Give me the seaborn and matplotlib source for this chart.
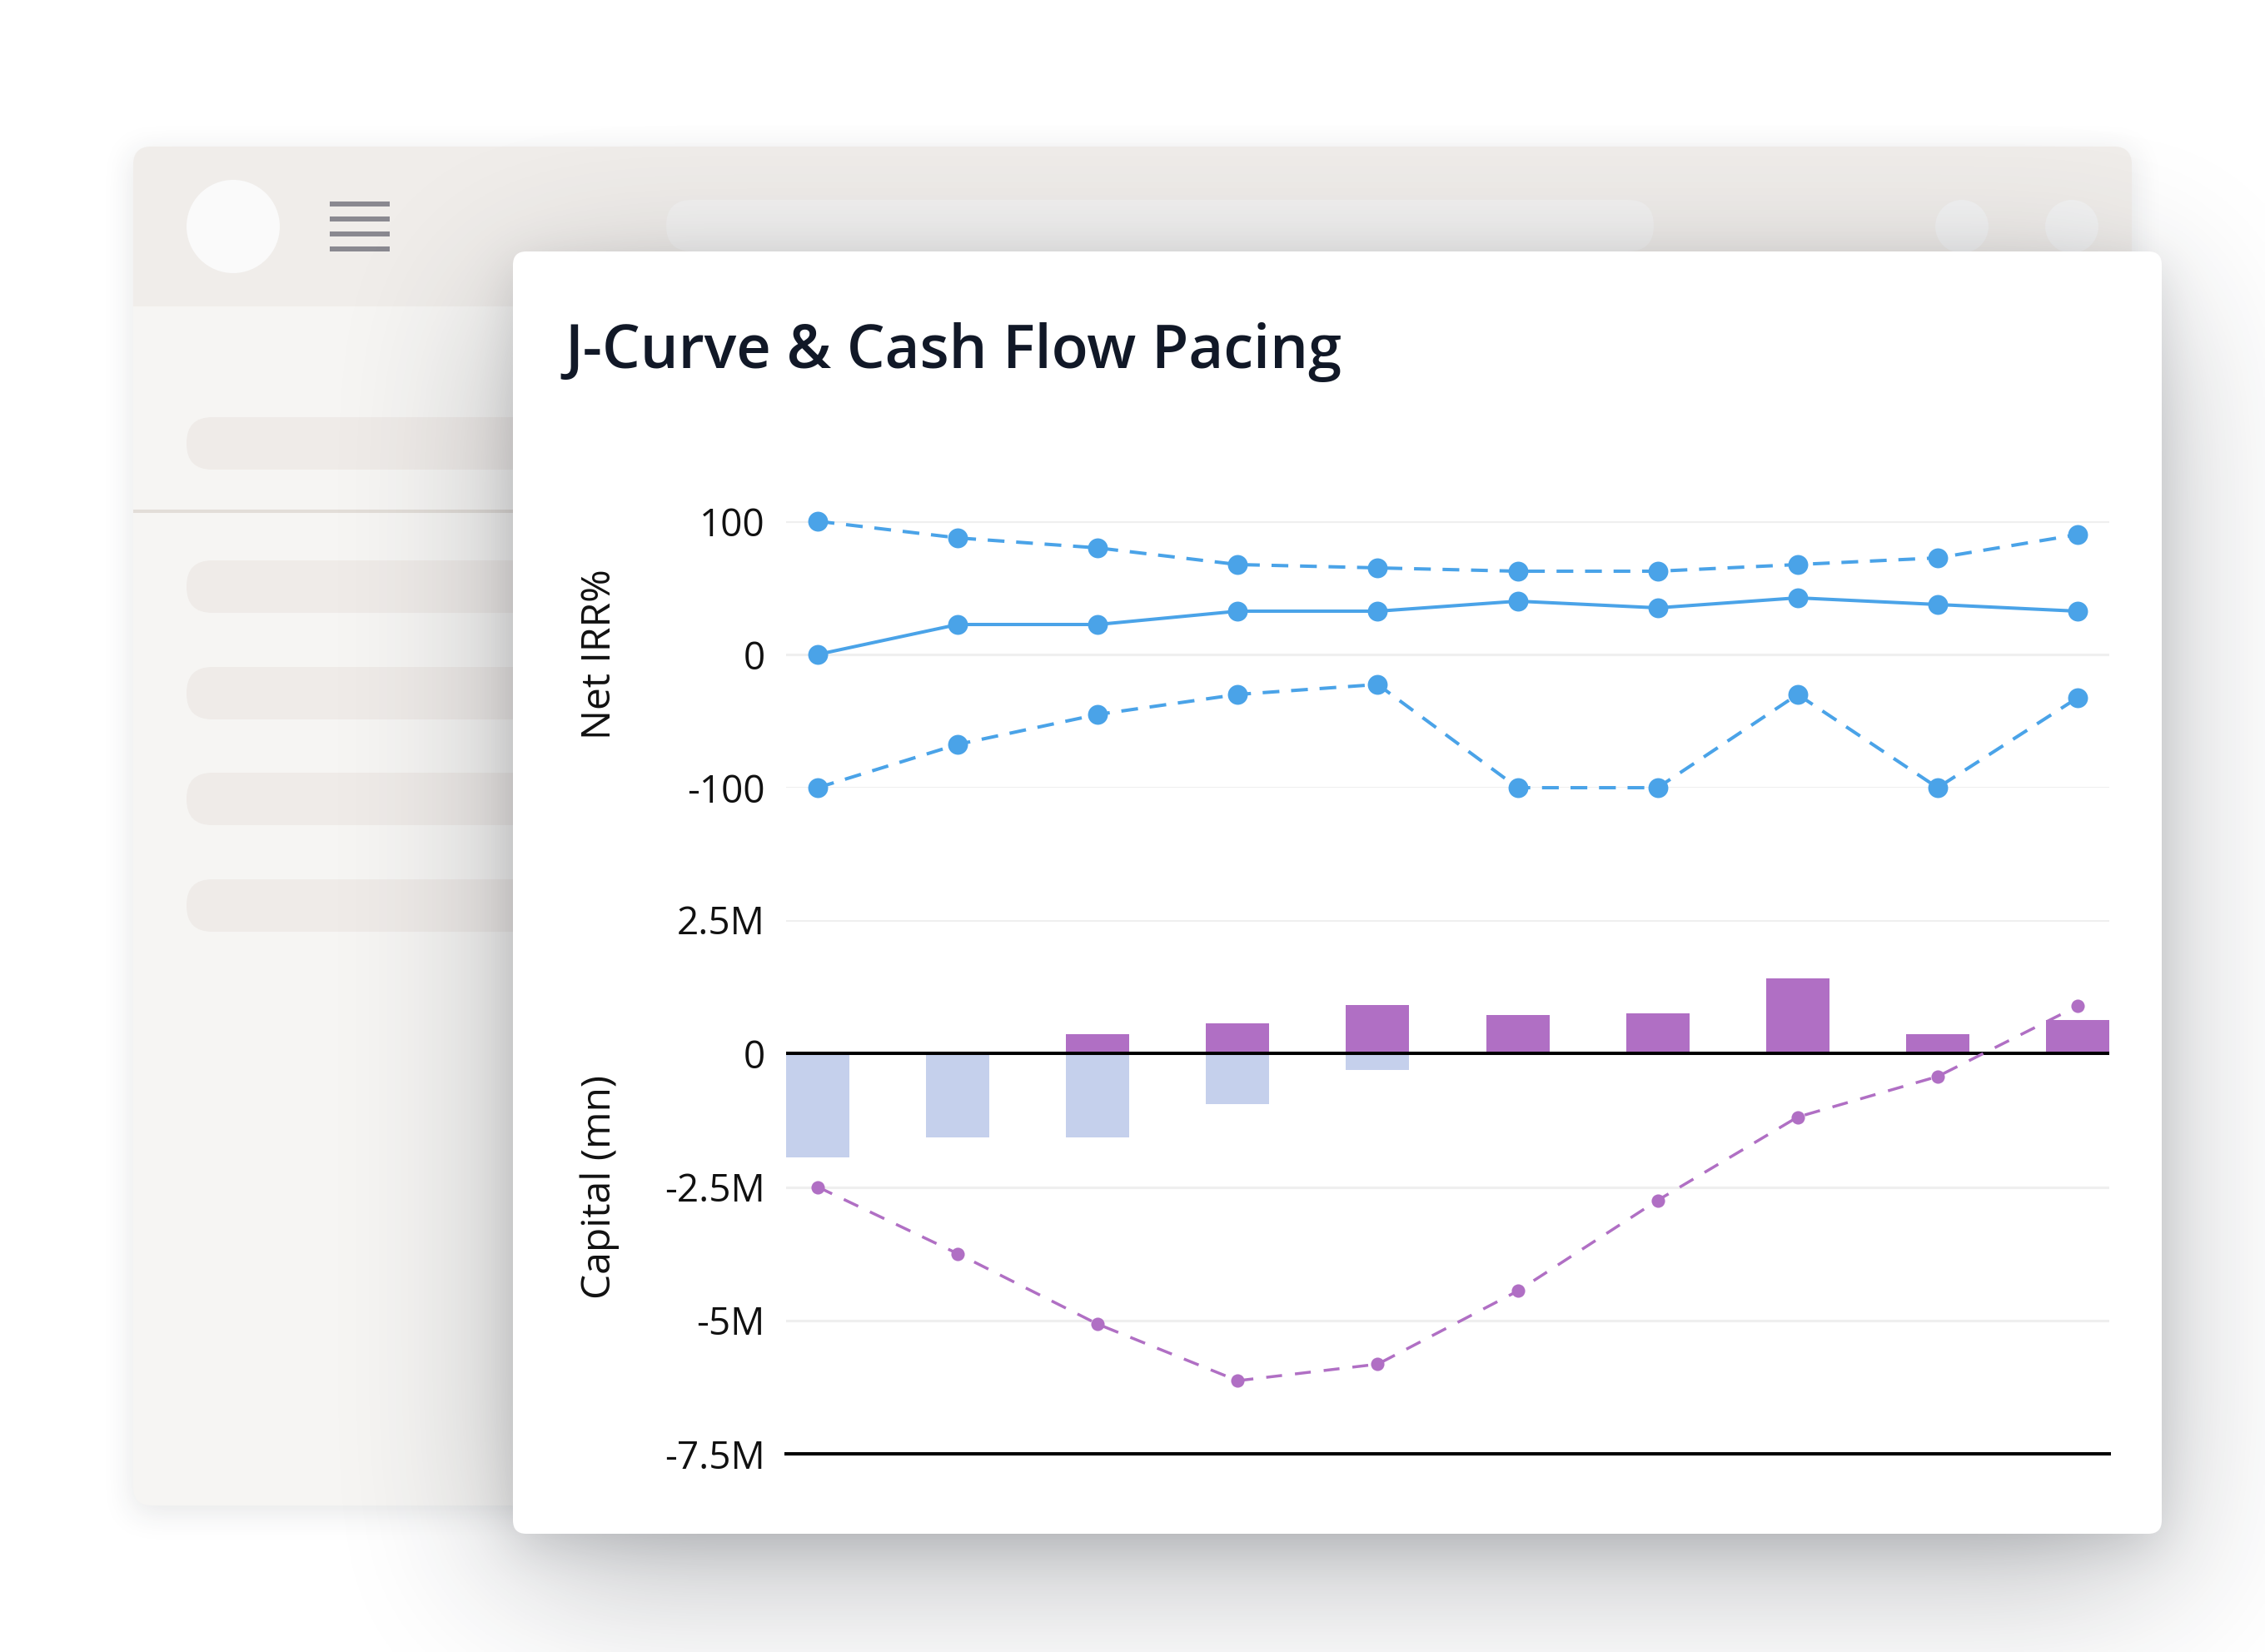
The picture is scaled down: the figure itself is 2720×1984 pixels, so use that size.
import numpy as np
import pandas as pd
import matplotlib
matplotlib.use("Agg")
import matplotlib.pyplot as plt
import seaborn as sns
from matplotlib.patches import FancyBboxPatch, Circle, Rectangle

# ---------------- data ----------------
periods = [f"Y{i}" for i in range(1, 11)]
irr_top = [100, 87.5, 80, 67.5, 65, 62.5, 62.5, 67.5, 72.5, 90]
irr_median = [0, 22.5, 22.5, 32.5, 32.5, 40, 35, 42.5, 37.5, 32.5]
irr_bottom = [-100, -67.5, -45, -30, -22.5, -100, -100, -30, -100, -32.5]
contributions_m = [-1.95, -1.57, -1.57, -0.94, -0.31, 0, 0, 0, 0, 0]
distributions_m = [0, 0, 0.37, 0.57, 0.91, 0.72, 0.75, 1.41, 0.37, 0.63]
net_cumulative_m = [-2.5, -3.75, -5.07, -6.13, -5.82, -4.45, -2.75, -1.19, -0.43, 0.89]

irr_ticks = [100, 0, -100]
irr_tick_labels = ["100", "0", "-100"]
cap_ticks_m = [2.5, 0, -2.5, -5, -7.5]
cap_tick_labels = ["2.5M", "0", "-2.5M", "-5M", "-7.5M"]

title = "J-Curve & Cash Flow Pacing"
irr_label = "Net IRR%"
cap_label = "Capital (mn)"

# ---------------- style ----------------
sns.set_theme(style="white")
plt.rcParams["font.family"] = ["Open Sans", "DejaVu Sans"]
plt.rcParams["axes.unicode_minus"] = False

BLUE = "#4aa3e8"
PURPLE = "#b06fc4"
LIGHT = "#c5d0ec"
GRID = "#efefef"

W, H, DPI = 2720, 1984, 200
fig = plt.figure(figsize=(W / DPI, H / DPI), dpi=DPI, facecolor="white")

# ---------------- decorative background (pixel coords) ----------------
bg = fig.add_axes([0, 0, 1, 1], zorder=0)
bg.set_axis_off()


def blur(a, s):
    w = int(round(np.sqrt(4 * s * s + 1)))
    if w % 2 == 0:
        w += 1
    r = w // 2
    for axis in (0, 1):
        for _ in range(3):
            b = np.moveaxis(a, axis, -1)
            p = np.pad(b, [(0, 0), (r + 1, r)])
            c = np.cumsum(p, axis=-1)
            b = (c[:, w:] - c[:, :-w]) / w
            a = np.moveaxis(b, -1, axis)
    return a


DS = 4
hh, ww = H // DS, W // DS


def shadow(x0, y0, w, h, dx, dy, sigma, alpha):
    m = np.zeros((hh, ww))
    m[int((y0 + dy) / DS):int((y0 + dy + h) / DS), int((x0 + dx) / DS):int((x0 + dx + w) / DS)] = 1.0
    return blur(m, sigma / DS) * alpha


def shadow_img(alpha, rgb):
    img = np.zeros((hh, ww, 4))
    img[..., :3] = rgb
    img[..., 3] = np.clip(alpha, 0, 1)
    return img


# window
win = (160, 176, 2400, 1632)
a_win = shadow(*win, 0, 10, 18, 0.12)
bg.imshow(shadow_img(a_win, (0.15, 0.17, 0.2)), extent=(0, W, H, 0), interpolation="bilinear", zorder=1)
bg.add_patch(FancyBboxPatch(win[:2], win[2], win[3], boxstyle="round,pad=0,rounding_size=22",
                            fc="#f6f5f3", ec="none", zorder=2))
bg.add_patch(FancyBboxPatch((160, 176), 2400, 192, boxstyle="round,pad=0,rounding_size=22",
                            fc="#f0edea", ec="none", zorder=2.1))
bg.add_patch(Rectangle((160, 330), 2400, 38, fc="#f0edea", ec="none", zorder=2.1))
bg.add_patch(Rectangle((160, 612), 700, 4, fc="#e2ddd8", ec="none", zorder=2.2))
for y0 in [501, 673, 801, 928, 1056]:
    bg.add_patch(FancyBboxPatch((224, y0), 700, 63, boxstyle="round,pad=0,rounding_size=31",
                                fc="#efebe8", ec="none", zorder=2.2))
bg.add_patch(Circle((280, 272), 56, fc="#fafafa", ec="none", zorder=2.2))
for yl in [245, 263, 281, 299]:
    bg.add_patch(Rectangle((396, yl - 3), 72, 6, fc="#8a8990", ec="none", zorder=2.2))
bg.add_patch(FancyBboxPatch((800, 240), 1186, 62, boxstyle="round,pad=0,rounding_size=31",
                            fc="#f3f2f1", ec="none", zorder=2.2))
for cx in [2356, 2488]:
    bg.add_patch(Circle((cx, 272), 32, fc="#f3f3f3", ec="none", zorder=2.2))

# card
card = (616, 302, 1980, 1540)
a_card = shadow(*card, 0, 15, 25, 0.12) + shadow(*card, 0, 60, 95, 0.30)
bg.imshow(shadow_img(a_card, (0.12, 0.14, 0.18)), extent=(0, W, H, 0), interpolation="bilinear", zorder=4)
bg.add_patch(FancyBboxPatch(card[:2], card[2], card[3], boxstyle="round,pad=0,rounding_size=16",
                            fc="white", ec="none", zorder=5))
bg.set_aspect("auto")
bg.set_xlim(0, W)
bg.set_ylim(H, 0)

fig.text(678 / W, 1 - 442 / H, title, fontsize=26.0, fontweight="semibold", color="#111827",
         ha="left", va="baseline")

# ---------------- chart axes ----------------
left, width = 944 / W, 1589 / W
ax2 = fig.add_axes([left, 1 - 1746 / H, width, 641 / H], zorder=2)
ax1 = fig.add_axes([left, 1 - 946 / H, width, 320 / H], zorder=2, sharex=ax2)
for ax in (ax1, ax2):
    ax.set_facecolor("none")

pos = np.arange(len(periods))
cash = pd.DataFrame({
    "period": periods,
    "contrib": np.array(contributions_m) * 1e6,
    "dist": np.array(distributions_m) * 1e6,
    "net": np.array(net_cumulative_m) * 1e6,
})

sns.barplot(data=cash, x="period", y="contrib", order=periods, color=LIGHT, saturation=1,
            width=0.452, errorbar=None, linewidth=0, ax=ax2, zorder=2)
sns.barplot(data=cash, x="period", y="dist", order=periods, color=PURPLE, saturation=1,
            width=0.452, errorbar=None, linewidth=0, ax=ax2, zorder=2)
ax2.axhline(0, color="black", lw=1.45, zorder=3)
sns.lineplot(x=pos, y=cash["net"], ax=ax2, color=PURPLE, lw=1.25, linestyle=(0, (5.5, 4.5)),
             marker="o", markersize=5.8, markeredgewidth=0, zorder=4, clip_on=False)

irr = pd.DataFrame({"pos": pos, "top": irr_top, "median": irr_median, "bottom": irr_bottom})
for col, ls in [("top", (0, (5, 3.5))), ("median", "-"), ("bottom", (0, (5, 3.5)))]:
    sns.lineplot(data=irr, x="pos", y=col, ax=ax1, color=BLUE, lw=1.45, linestyle=ls,
                 marker="o", markersize=8.6, markeredgewidth=0, zorder=4, clip_on=False)

ax1.set_ylim(-100, 100)
ax1.set_yticks(irr_ticks, irr_tick_labels)
ax2.set_ylim(-7.5e6, 2.5e6)
ax2.set_yticks(np.array(cap_ticks_m) * 1e6, cap_tick_labels)
ax2.set_xlim(-0.226, len(periods) - 1 + 0.226)

for ax in (ax1, ax2):
    ax.yaxis.grid(True, color=GRID, lw=1.1)
    ax.xaxis.grid(False)
    ax.set_axisbelow(True)
    ax.tick_params(axis="y", length=0, pad=9, labelsize=16.5, labelcolor="#111111")
    ax.tick_params(axis="x", length=0, labelbottom=False)
    ax.set_xlabel("")
    for s in ax.spines.values():
        s.set_visible(False)
ax2.spines["bottom"].set_visible(True)
ax2.spines["bottom"].set_color("black")
ax2.spines["bottom"].set_linewidth(1.45)

ax1.set_ylabel(irr_label, fontsize=17.3, color="#111111")
ax2.set_ylabel(cap_label, fontsize=17.3, color="#111111")
ax1.yaxis.set_label_coords(-0.126, 0.5)
ax2.yaxis.set_label_coords(-0.126, 0.5)

fig.savefig("out.png", dpi=DPI, facecolor="white")
